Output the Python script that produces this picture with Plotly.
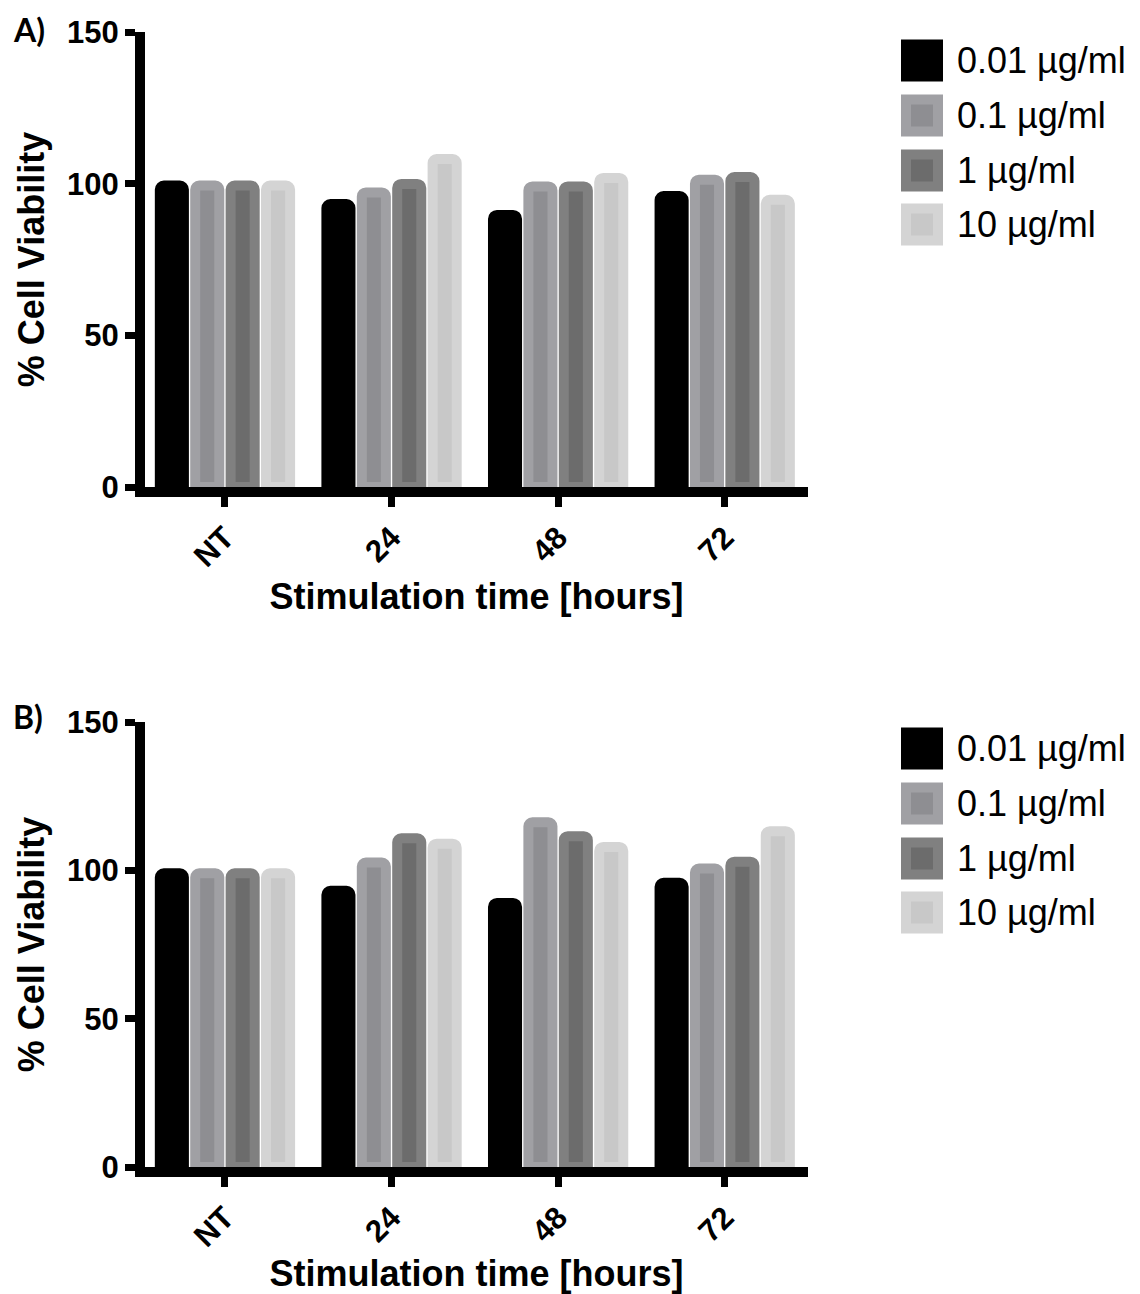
import plotly.graph_objects as go

# ---------------- data ----------------
categories = ["NT", "24", "48", "72"]
series_names = ["0.01 µg/ml", "0.1 µg/ml", "1 µg/ml", "10 µg/ml"]

# Panel A  (% cell viability)
a_001 = [99.4, 93.3, 89.7, 95.9]
a_01 = [99.4, 97.1, 99.1, 101.3]
a_1 = [99.4, 99.9, 99.1, 102.2]
a_10 = [99.4, 108.1, 101.9, 94.7]

# Panel B  (% cell viability)
b_001 = [99.0, 93.1, 89.0, 95.8]
b_01 = [99.0, 102.6, 116.2, 100.6]
b_1 = [99.0, 110.8, 111.5, 102.9]
b_10 = [99.0, 109.0, 107.9, 113.2]

y_ticks = [0, 50, 100, 150]

# ---------------- styling ----------------
inner_colors = ["#000000", "#8e8e92", "#6c6c6c", "#c8c8c8"]
outer_colors = ["#000000", "#a0a0a4", "#808080", "#d4d4d4"]

W, H = 1140, 1294


def px(x):
    return x / W


def py(y):
    return 1 - y / H


FONT = "Liberation Sans"

fig = go.Figure()

panels = [
    ("x", "y", [a_001, a_01, a_1, a_10]),
    ("x2", "y2", [b_001, b_01, b_1, b_10]),
]
for xa, ya, vals in panels:
    for name, v, fc, lc in zip(series_names, vals, inner_colors, outer_colors):
        fig.add_trace(go.Bar(
            x=categories, y=v, name=name, xaxis=xa, yaxis=ya,
            marker=dict(color=fc, line=dict(color=lc, width=10), cornerradius=4),
            showlegend=False,
        ))

x_dom = [px(145), px(808)]
dom_a = [py(487), py(32)]
dom_b = [py(1167), py(722)]

tickfont = dict(family=FONT, size=31, color="black", weight="bold")
titlefont = dict(family=FONT, size=36, color="black", weight="bold")

xcommon = dict(
    type="category", categoryorder="array", categoryarray=categories,
    range=[-0.48, 3.5], domain=x_dom, showline=True, linewidth=10, linecolor="black",
    ticks="outside", ticklen=10, tickwidth=7, tickcolor="black", tickangle=-45,
    tickfont=tickfont, showgrid=False, zeroline=False, automargin=False,
    title=dict(text="Stimulation time [hours]", font=titlefont),
)
ycommon = dict(
    range=[0, 150], tickvals=y_ticks, showline=True, linewidth=10, linecolor="black",
    ticks="outside", ticklen=10, tickwidth=7, tickcolor="black",
    tickfont=tickfont, showgrid=False, zeroline=False, automargin=False,
    title=dict(text="% Cell Viability", font=titlefont),
)

fig.update_layout(
    width=W, height=H,
    margin=dict(l=0, r=0, t=0, b=0),
    paper_bgcolor="white", plot_bgcolor="white",
    barmode="group", bargap=0.15, bargroupgap=0.32,
    xaxis=dict(xcommon, anchor="y"),
    yaxis=dict(ycommon, anchor="x", domain=dom_a),
    xaxis2=dict(xcommon, anchor="y2"),
    yaxis2=dict(ycommon, anchor="x2", domain=dom_b),
)

shapes = []
annotations = []
# panel labels
for lab, yc in [("A)", 29), ("B)", 716)]:
    annotations.append(dict(
        text=lab, x=px(11), y=py(yc), xref="paper", yref="paper",
        xanchor="left", yanchor="middle", showarrow=False,
        font=dict(family="Lato", size=32, color="black", weight="bold"),
    ))

# legends (one per panel)
row_centers = [60.5, 115.5, 170.5, 224.5]
for offset in [0, 688]:
    for i, (name, fc, lc) in enumerate(zip(series_names, inner_colors, outer_colors)):
        cy = row_centers[i] + offset
        shapes.append(dict(type="rect", xref="paper", yref="paper",
                           x0=px(901), x1=px(943), y0=py(cy - 21), y1=py(cy + 21),
                           fillcolor=lc, line=dict(width=0)))
        if i > 0:
            shapes.append(dict(type="rect", xref="paper", yref="paper",
                               x0=px(911), x1=px(933), y0=py(cy - 11), y1=py(cy + 11),
                               fillcolor=fc, line=dict(width=0)))
        annotations.append(dict(
            text=name, x=px(955), y=py(cy), xref="paper", yref="paper",
            xanchor="left", yanchor="middle", showarrow=False,
            font=dict(family=FONT, size=36, color="black"),
        ))

fig.update_layout(shapes=shapes, annotations=annotations)

fig.write_html("out.html")
